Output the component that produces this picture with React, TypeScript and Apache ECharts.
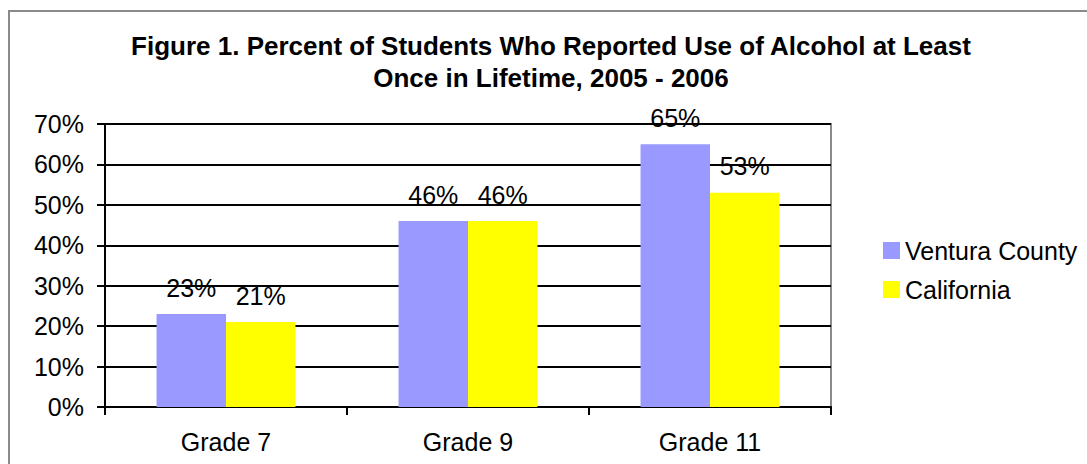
import React, { useEffect, useRef } from "react";
import * as echarts from "echarts";

const categories = ["Grade 7", "Grade 9", "Grade 11"];
const venturaCounty = [23, 46, 65];
const california = [21, 46, 53];
const seriesNames = ["Ventura County", "California"];
const titleText =
  "Figure 1. Percent of Students Who Reported Use of Alcohol at Least\nOnce in Lifetime, 2005 - 2006";

const FONT = "'Liberation Sans', Arial, sans-serif";

export default function App() {
  const ref = useRef<HTMLDivElement>(null);

  useEffect(() => {
    if (!ref.current) return;
    const chart = echarts.init(ref.current, null, { renderer: "svg" });

    const label = {
      show: true,
      position: "top",
      distance: 14,
      color: "#000",
      fontFamily: FONT,
      fontSize: 25,
      formatter: (p: any) => `${p.value}%`,
    };

    chart.setOption({
      animation: false,
      backgroundColor: "#fff",
      textStyle: { fontFamily: FONT, color: "#000" },
      title: {
        text: titleText,
        left: 551,
        top: 30,
        padding: 0,
        textAlign: "center",
        textStyle: {
          fontFamily: FONT,
          fontSize: 26,
          fontWeight: "bold",
          color: "#000",
          lineHeight: 32,
        },
      },
      graphic: [
        {
          type: "rect",
          shape: { x: 9, y: 11, width: 1100, height: 500 },
          style: { fill: "none", stroke: "#8a8a8a", lineWidth: 2 },
          silent: true,
          z: -1,
        },
      ],
      legend: {
        orient: "vertical",
        left: 878,
        top: 233,
        itemWidth: 17,
        itemHeight: 17,
        itemGap: 14,
        icon: "rect",
        textStyle: { fontFamily: FONT, fontSize: 25, color: "#000" },
        data: seriesNames,
      },
      grid: {
        left: 105,
        top: 124,
        right: 256,
        bottom: 57,
        show: true,
        borderColor: "#8a8a8a",
        borderWidth: 2,
        backgroundColor: "#fff",
      },
      xAxis: {
        type: "category",
        data: categories,
        axisLine: { lineStyle: { color: "#000", width: 2 } },
        axisTick: { show: true, length: 8, lineStyle: { color: "#000", width: 2 } },
        axisLabel: { color: "#000", fontFamily: FONT, fontSize: 25, margin: 22 },
      },
      yAxis: {
        type: "value",
        min: 0,
        max: 70,
        interval: 10,
        axisLine: { show: true, lineStyle: { color: "#000", width: 2 } },
        axisTick: { show: true, length: 8, lineStyle: { color: "#000", width: 2 } },
        axisLabel: {
          color: "#000",
          fontFamily: FONT,
          fontSize: 25,
          margin: 21,
          formatter: (v: number) => `${v}%`,
        },
        splitLine: { show: true, lineStyle: { color: "#000", width: 2 } },
      },
      series: [
        {
          name: seriesNames[0],
          type: "bar",
          data: venturaCounty,
          itemStyle: { color: "#9999ff" },
          barGap: "0%",
          barCategoryGap: "42.6%",
          label,
        },
        {
          name: seriesNames[1],
          type: "bar",
          data: california,
          itemStyle: { color: "#ffff00" },
          label,
        },
      ],
    });

    return () => chart.dispose();
  }, []);

  return (
    <div
      ref={ref}
      style={{ position: "fixed", left: 0, top: 0, width: 1087, height: 464 }}
    />
  );
}
